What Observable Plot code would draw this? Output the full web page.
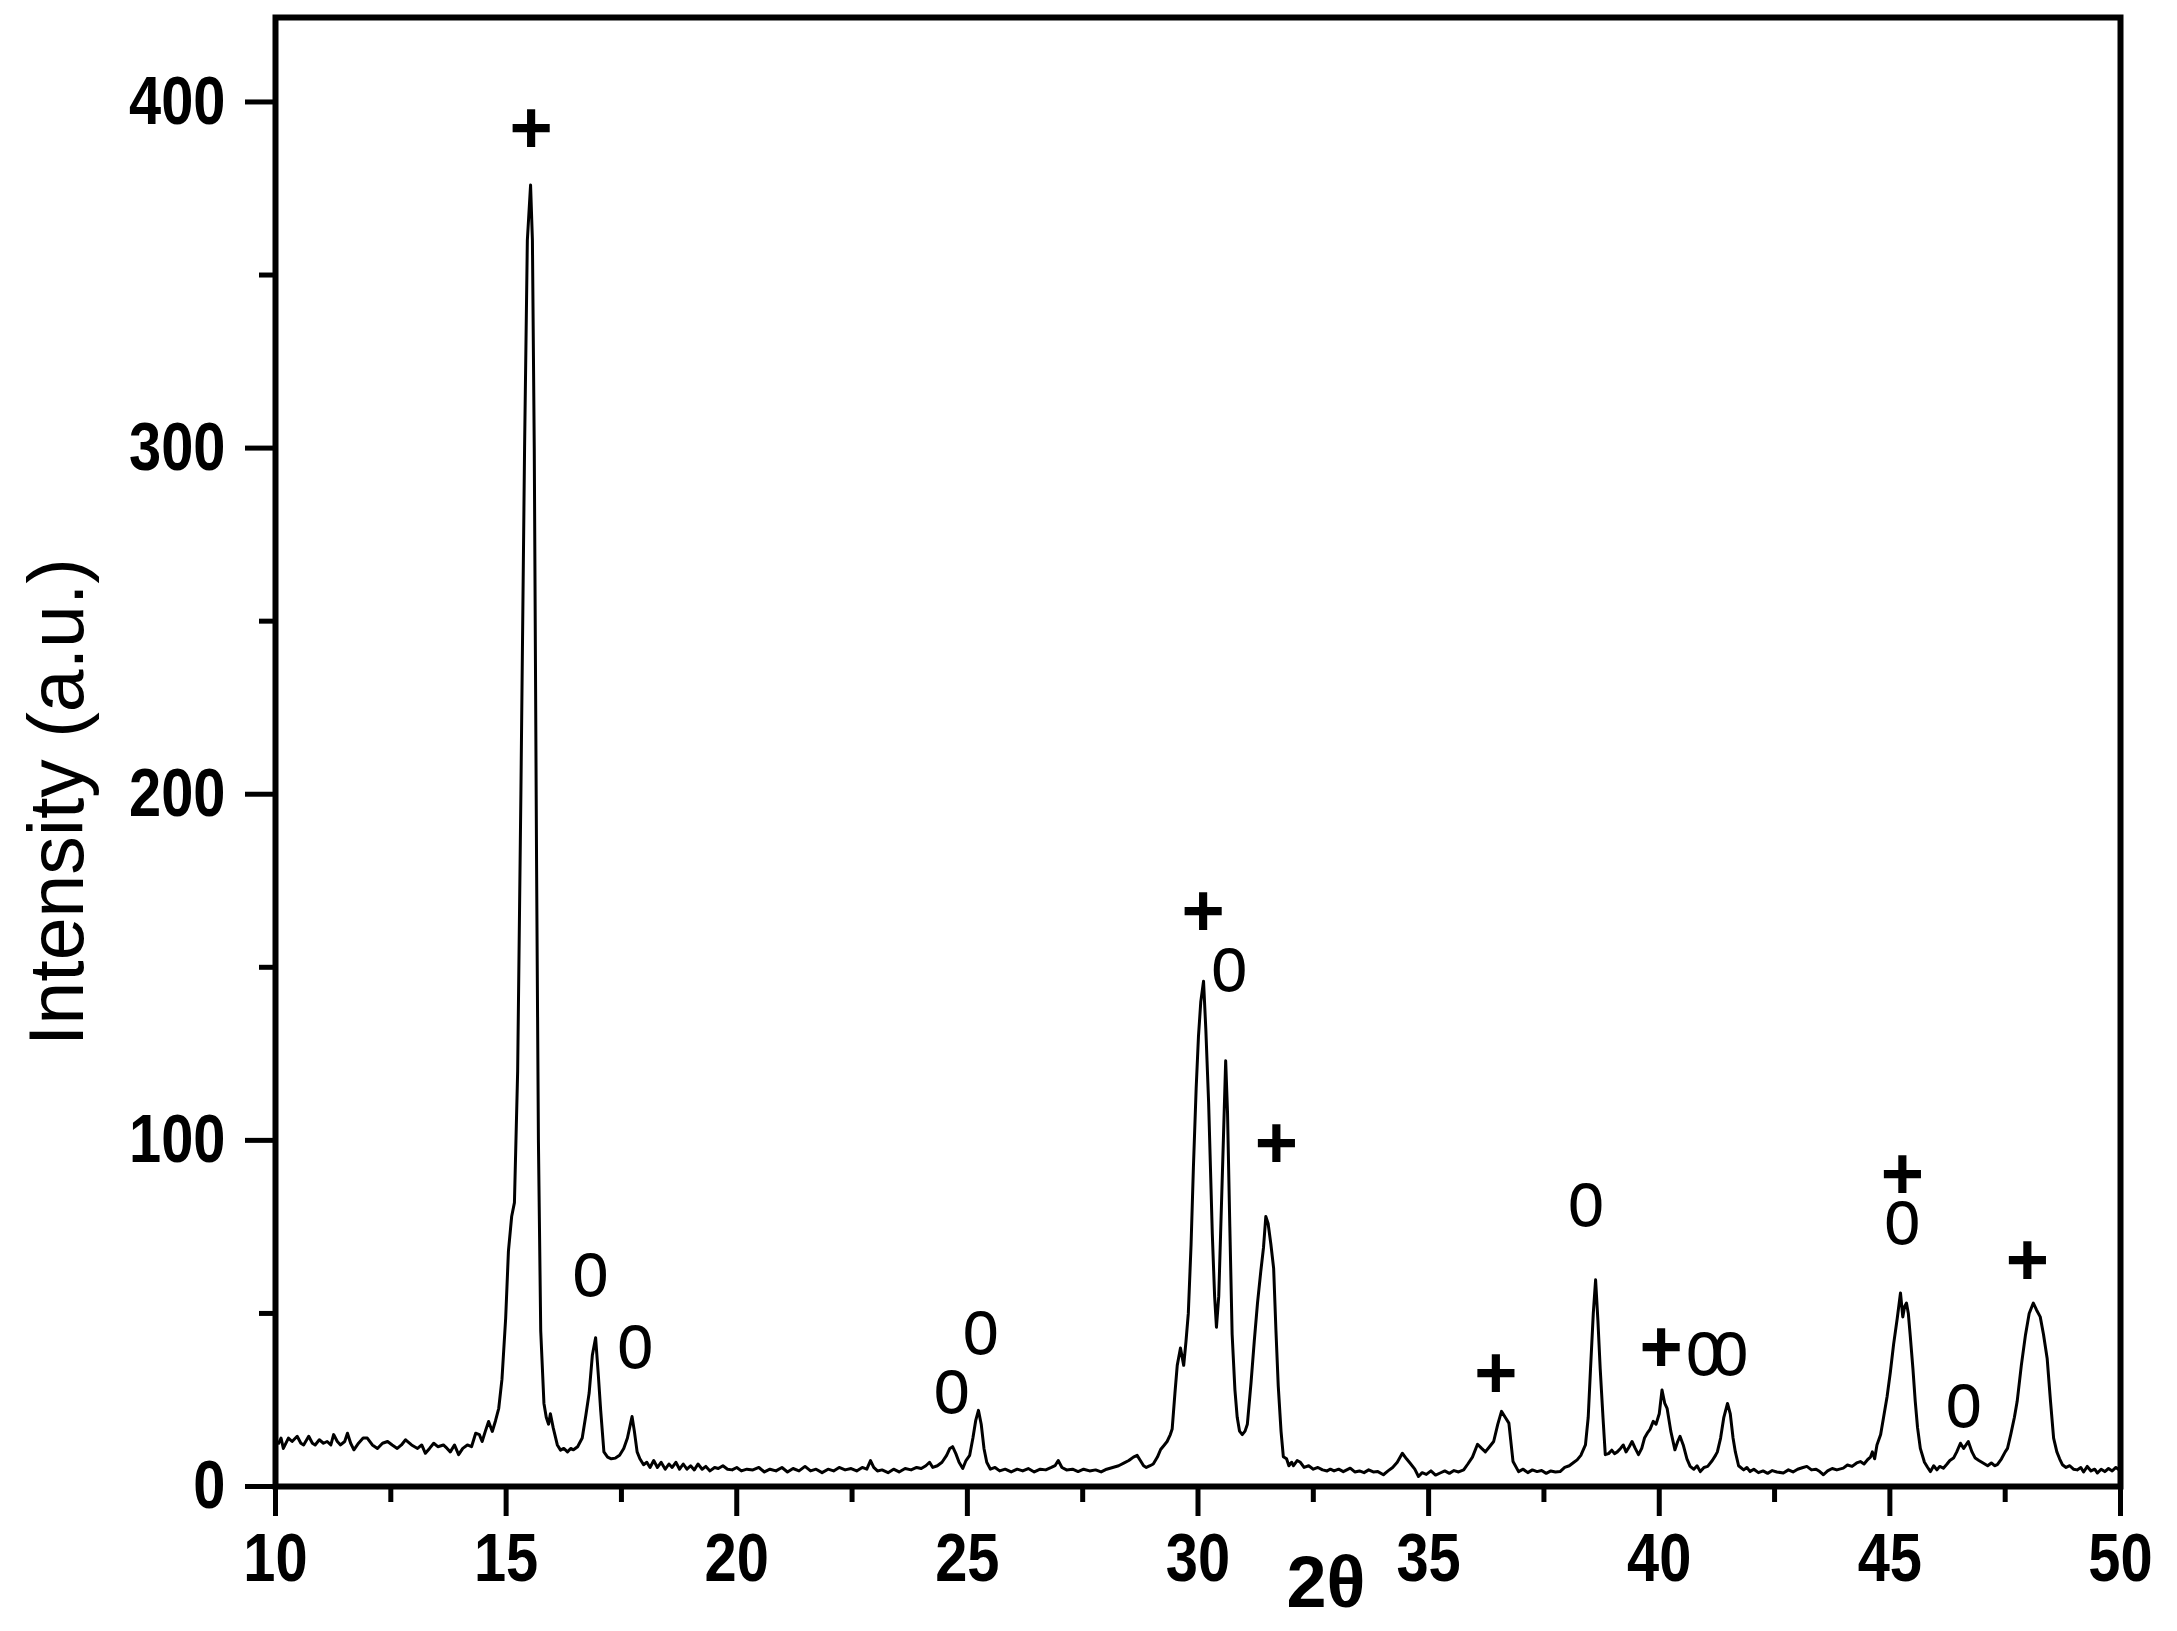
<!DOCTYPE html>
<html><head><meta charset="utf-8">
<script src="https://cdn.jsdelivr.net/npm/d3@7"></script>
<script src="https://cdn.jsdelivr.net/npm/@observablehq/plot@0.6"></script>
<style>body{margin:0;background:#fff;}</style>
</head><body><div id="chart"></div>
<script>
const twoTheta = [
10.0,10.07,10.12,10.17,10.28,10.36,10.47,10.55,10.61,10.72,10.8,10.86,10.95,11.04,11.12,11.2,11.26,11.34,11.41,11.5,11.56,11.63,11.7,11.8,11.9,11.99,12.1,12.21,12.32,12.43,12.53,12.64,12.73,12.82,12.95,13.08,13.17,13.25,13.34,13.43,13.52,13.64,13.72,13.79,13.88,13.97,14.06,14.16,14.25,14.34,14.42,14.48,14.55,14.62,14.7,14.77,14.84,14.91,14.99,15.05,15.12,15.18,15.25,15.32,15.4,15.46,15.53,15.57,15.61,15.66,15.7,15.75,15.82,15.87,15.92,15.96,16.02,16.11,16.18,16.25,16.33,16.4,16.46,16.55,16.65,16.73,16.8,16.87,16.94,17.0,17.05,17.12,17.2,17.28,17.37,17.46,17.55,17.63,17.73,17.78,17.84,17.9,17.98,
18.05,18.12,18.2,18.28,18.36,18.45,18.53,18.6,18.68,18.76,18.84,18.92,19.0,19.08,19.16,19.25,19.33,19.42,19.52,19.6,19.7,19.8,19.9,20.0,20.1,20.22,20.35,20.48,20.6,20.72,20.85,20.98,21.1,21.22,21.35,21.48,21.6,21.72,21.85,21.98,22.1,22.22,22.35,22.48,22.6,22.72,22.82,22.9,22.97,23.05,23.15,23.28,23.4,23.52,23.65,23.78,23.9,24.0,24.1,24.18,24.25,24.35,24.45,24.55,24.62,24.68,24.75,24.82,24.9,24.97,25.05,25.12,25.18,25.24,25.3,25.36,25.42,25.5,25.6,25.7,25.82,25.95,26.08,26.2,26.32,26.45,26.58,26.7,26.82,26.9,26.97,27.05,27.15,27.28,27.4,27.52,27.65,27.78,27.9,28.02,28.15,28.28,28.4,28.5,28.6,28.68,28.75,28.82,28.88,28.96,
29.03,29.12,29.19,29.27,29.33,29.4,29.44,29.5,29.55,29.62,29.69,29.74,29.79,29.85,29.9,29.96,30.01,30.06,30.12,30.17,30.23,30.31,30.36,30.4,30.45,30.49,30.55,30.6,30.64,30.69,30.74,30.8,30.85,30.9,30.96,31.02,31.07,31.15,31.22,31.29,31.36,31.42,31.47,31.52,31.58,31.64,31.69,31.74,31.8,31.85,31.92,31.97,32.03,32.07,32.15,32.22,32.3,32.4,32.5,32.6,32.7,32.8,32.87,32.95,
33.05,33.15,33.3,33.4,33.5,33.6,33.7,33.8,33.9,34.02,34.12,34.22,34.32,34.43,34.52,34.6,34.7,34.78,34.86,34.95,35.05,35.15,35.25,35.35,35.45,35.55,35.65,35.76,35.85,35.95,36.06,36.15,36.23,36.32,36.41,36.5,36.58,36.66,36.74,36.83,36.95,37.05,37.15,37.25,37.35,37.45,37.55,37.65,37.75,37.85,37.95,38.05,38.15,38.22,38.3,38.4,38.46,38.51,38.57,38.62,38.67,38.72,38.78,38.83,38.9,38.97,39.03,39.09,39.16,39.22,39.28,39.35,39.41,39.48,39.55,39.62,39.68,39.74,39.8,39.87,39.93,40.0,40.06,40.12,40.17,40.25,40.34,40.4,40.45,40.52,40.6,40.67,40.75,40.82,40.89,40.97,41.05,41.15,41.22,41.26,41.33,41.4,41.48,41.54,41.6,41.65,41.72,41.83,41.9,41.97,
42.05,42.15,42.25,42.35,42.45,42.55,42.69,42.8,42.9,43.0,43.1,43.2,43.3,43.4,43.48,43.56,43.65,43.75,43.85,43.99,44.08,44.18,44.28,44.36,44.44,44.52,44.58,44.62,44.67,44.72,44.8,44.86,44.94,45.01,45.08,45.16,45.23,45.28,45.32,45.36,45.4,45.44,45.5,45.55,45.6,45.66,45.75,45.82,45.88,45.95,46.02,46.08,46.16,46.24,46.3,46.38,46.45,46.53,46.6,46.7,46.78,46.85,46.93,47.03,47.12,47.2,47.27,47.33,47.42,47.5,47.55,47.62,47.7,47.76,47.85,47.94,48.02,48.08,48.11,48.18,48.26,48.33,48.41,48.48,48.55,48.62,48.68,48.74,48.82,48.9,48.98,49.06,49.14,49.2,49.28,49.36,49.44,49.5,49.58,49.66,49.74,49.82,49.9,49.97
];
const intensity = [
13,12.5,14,11,14,13,14.5,12.5,12,14.5,12.5,12,13.5,12.5,13,12,15,13,12,13,15.4,12.5,10.6,12.5,14,14,12,11,12.5,13,12,11,12,13.5,12,11,12,9.6,11,12.5,11.5,12,11,10,12,9.2,11,12,11.5,15.4,15,13,16,18.8,15.9,19,22.6,31,48.6,68,78,82,120,200,300,360,376,360,300,180,100,45,24,20,18,21,17,12,10.5,11,10,11,10.6,11.5,14,20.7,27,38,43,32,22,10,8.5,8,8.2,9,11,14,20.2,16,10,8,6.3,
7,5.5,7.5,5.5,7,5,6.5,5.5,7,5,6.5,5,6,4.8,6.5,5,5.8,4.5,5.5,5.2,6,5,4.8,5.5,4.5,5,4.8,5.5,4.2,5,4.5,5.5,4.2,5.2,4.5,5.8,4.5,5,4,5,4.5,5.5,4.8,5.2,4.5,5.5,5,7.5,5.5,4.5,4.8,4,5,4.2,5.2,4.8,5.5,5.2,6,7,5.5,6,7,9,11,11.5,9.5,7,5.2,7.5,9,14,19,22,18,11,7,5,5.5,4.5,5,4.2,5,4.5,5.2,4.2,5,4.8,5.5,6,7.5,5.5,4.8,5,4.3,5,4.5,4.8,4.2,5,5.5,6,6.8,7.5,8.5,9,7.5,6,5.5,6,
6.5,8.5,10.7,12,13,15,16.6,27,35,40,35,42,50,70,92,115,130,140,146,132,111,73,55,46,55,73,100,123,108,75,44,28,20,16,15,16,18,30,42,53,62,69,78,76,70,63,45,29,16,8.6,8,6,7,6,7.5,7,5.5,6,5,5.5,4.8,4.5,5,4.5,
5,4.3,5.3,4.2,4.5,4,4.8,4.2,4.3,3.4,4.5,5.5,7,9.6,8,6.7,5,2.9,4,3.5,4.5,3.3,3.9,4.5,3.8,4.6,4.2,4.8,6.5,8.5,12.2,11,10,11.5,13,18,21.7,20,18.3,7.2,4.3,5,4,4.8,4.3,4.6,3.8,4.5,4.2,4.3,5.5,6,7,7.7,9,12,20,34,50,59.7,48,34,20,9.2,9.5,10.5,9.5,10,11,12,10,11.5,13,11,9.2,11,14,15.4,16.5,18.8,18,21,27.9,24,22.6,16,10.6,13,14.5,12,8,5.8,5,6,4.3,5.5,5.8,7.5,9,10,14,20,24,21,14,10,6,4.8,5.5,4.3,
5,4,4.5,3.8,4.6,4.2,3.9,4.8,4.2,5,5.4,5.8,4.8,5,4.3,3.4,4.5,5.2,4.8,5.3,6.2,5.8,6.8,7.2,6.5,7.8,8.5,10,8,12,15,19.7,26,33,41,48.6,55.9,49,52,53,50,43.8,34,24.6,17,11,7,5.5,4.3,6,4.8,5.8,5.3,6.5,7.5,8.2,10,12.5,11,13,10,8.2,7.5,6.7,6,6.8,6,6.3,8,10,11,15,20,24.6,35,43.8,50,52,53,51,49,44,37,25,14,10,8,6.3,5.5,6,5,4.8,5.5,4.2,5.8,4.5,5,3.9,5,4.3,5.2,4.5,5.5,4.8
];
const markerX = [15.54,16.83,17.80,24.66,25.29,30.11,30.68,31.70,36.46,38.41,40.04,40.97,41.54,45.27,45.27,46.60,47.98];
const markerY = [392,62,41,28,45,166,150,99,32.5,82,40,39,39,90,77,24,65];
const markerSym = ["+","o","o","o","o","+","o","+","+","o","+","o","o","+","o","o","+"];
const xTicks = [10,15,20,25,30,35,40,45,50];
const xMinor = [12.5,17.5,22.5,27.5,32.5,37.5,42.5,47.5];
const yTicks = [0,100,200,300,400];
const yMinor = [50,150,250,350];
const xLabel = "2θ";
const yLabel = "Intensity (a.u.)";

const spectrum = twoTheta.map((x, i) => ({x, y: intensity[i]}));
const markers = markerX.map((x, i) => ({x, y: markerY[i], s: markerSym[i]}));

const chart = Plot.plot({
  width: 2177, height: 1631,
  marginLeft: 275, marginRight: 57, marginTop: 17, marginBottom: 145,
  style: {fontFamily: "'Liberation Sans', Arial, sans-serif", background: "white", color: "black", fontSize: "68px", fontWeight: "bold"},
  x: {domain: [10, 50]},
  y: {domain: [0, 424.4]},
  marks: [
    Plot.line(spectrum, {x: "x", y: "y", stroke: "black", strokeWidth: 3}),
    Plot.text(markers.filter(d => d.s === "+"), {x: "x", y: "y", text: "s", fontSize: 74, fontWeight: "bold", fill: "black"}),
    Plot.text(markers.filter(d => d.s === "o"), {x: "x", y: "y", dy: -2, text: "s", fontSize: 80, fontWeight: "normal", fill: "black", ariaDescription: "o-markers"}),
    Plot.axisX({ticks: xTicks, tickSize: 30, tickPadding: 16, strokeWidth: 5, fontSize: 68, fontWeight: "bold", label: null}),
    Plot.axisX({ticks: xMinor, tickSize: 16, strokeWidth: 5, text: null, label: null}),
    Plot.axisY({ticks: yTicks, tickSize: 30, tickPadding: 20, strokeWidth: 5, fontSize: 68, fontWeight: "bold", label: null}),
    Plot.axisY({ticks: yMinor, tickSize: 16, strokeWidth: 5, text: null, label: null}),
    Plot.frame({stroke: "black", strokeWidth: 6}),
    Plot.text([yLabel], {frameAnchor: "left", textAnchor: "middle", dx: -217, dy: 50, rotate: -90, fontSize: 77, fontWeight: "normal", fill: "black"}),
    Plot.text([xLabel], {frameAnchor: "bottom", dx: 128, dy: 120, fontSize: 72, fontWeight: "bold", fill: "black"})
  ]
});
// condense glyphs horizontally, like the reference's narrow lettering
function squeeze(sel, k) {
  chart.querySelectorAll(sel).forEach(t => {
    const tr = t.getAttribute("transform");
    if (tr && tr.includes("translate")) t.setAttribute("transform", tr + ` scale(${k},1)`);
  });
}
squeeze('g[aria-label="x-axis tick label"] text', 0.85);
squeeze('g[aria-label="y-axis tick label"] text', 0.85);
squeeze('g[aria-description="o-markers"] text', 0.82);
document.getElementById("chart").appendChild(chart);
</script>
</body></html>
